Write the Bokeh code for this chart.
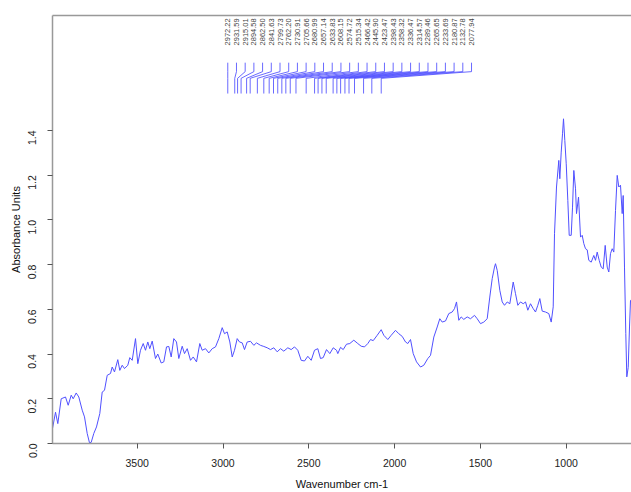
import math
import numpy as np
from bokeh.plotting import figure
from bokeh.models import Range1d, FixedTicker, LinearAxis, NumeralTickFormatter
from bokeh.embed import file_html
from bokeh.resources import INLINE
from bokeh.core.properties import value

# ---- spectrum ----
wavenumber = [3995.3, 3976.0, 3962.7, 3942.9, 3917.8, 3902.1, 3884.6, 3873.0, 3855.5, 3840.3,
              3820.5, 3807.1, 3791.4, 3778.0, 3768.1, 3752.9, 3737.2, 3717.9, 3704.0, 3690.5,
              3674.8, 3655.6, 3645.7, 3632.3, 3613.1, 3601.4, 3587.4, 3574.0, 3554.8, 3543.1,
              3529.1, 3509.9, 3496.5, 3480.8, 3465.0, 3451.6, 3438.2, 3426.6, 3412.6, 3393.4,
              3380.0, 3360.1, 3345.0, 3329.2, 3315.8, 3301.9, 3286.7, 3271.0, 3257.6, 3237.8,
              3224.3, 3208.6, 3189.4, 3173.6, 3154.4, 3135.2, 3121.2, 3101.9, 3082.7, 3062.9,
              3043.7, 3024.4, 3004.6, 2991.2, 2975.5, 2960.3, 2946.3, 2933.0, 2917.2, 2903.8,
              2888.1, 2874.7, 2859.0, 2839.7, 2820.5, 2804.8, 2781.4, 2762.2, 2742.4, 2723.2,
              2704.0, 2684.2, 2664.9, 2645.7, 2622.4, 2602.6, 2583.3, 2564.1, 2544.3, 2525.1,
              2505.8, 2486.0, 2466.8, 2447.6, 2431.8, 2416.1, 2396.8, 2377.6, 2357.8, 2338.6,
              2331.0, 2315.2, 2299.5, 2280.3, 2261.1, 2237.8, 2214.5, 2194.7, 2175.4, 2156.2,
              2140.4, 2124.7, 2101.4, 2078.1, 2062.9, 2039.6, 2019.8, 1994.7, 1975.5, 1955.7,
              1936.4, 1923.0, 1907.3, 1891.6, 1872.3, 1849.0, 1829.8, 1806.5, 1790.8, 1771.5,
              1751.7, 1736.6, 1722.6, 1703.4, 1684.2, 1664.4, 1651.0, 1639.3, 1625.9, 1611.9,
              1596.8, 1577.0, 1557.7, 1534.4, 1518.7, 1499.4, 1480.2, 1460.4, 1445.3, 1431.3,
              1417.8, 1412.0, 1402.1, 1386.9, 1372.9, 1359.5, 1343.8, 1328.6, 1308.8, 1295.4,
              1282.0, 1266.3, 1250.5, 1237.1, 1223.7, 1208.0, 1192.3, 1178.9, 1165.5, 1153.8,
              1139.8, 1120.6, 1101.4, 1087.4, 1075.7, 1068.2, 1056.5, 1043.1, 1037.3, 1029.1,
              1021.5, 1015.7, 1008.1, 999.9, 990.6, 982.5, 970.8, 963.2, 955.6, 945.7,
              939.9, 928.2, 916.6, 906.7, 897.4, 887.5, 877.6, 868.3, 854.3, 839.2,
              829.3, 819.4, 807.7, 796.1, 784.4, 772.8, 761.1, 751.8, 741.9, 732.0,
              722.7, 712.7, 702.8, 693.5, 683.6, 673.7, 667.9, 660.3, 652.7, 646.9,
              638.7, 631.1, 625.3, 619.5]
absorbance = [0.060, 0.140, 0.089, 0.200, 0.208, 0.171, 0.216, 0.200, 0.226, 0.208,
              0.149, 0.119, 0.045, 0.003, 0.005, 0.045, 0.074, 0.134, 0.230, 0.238,
              0.305, 0.313, 0.342, 0.320, 0.375, 0.327, 0.350, 0.335, 0.350, 0.384,
              0.372, 0.469, 0.357, 0.417, 0.447, 0.417, 0.454, 0.424, 0.458, 0.380,
              0.400, 0.360, 0.365, 0.432, 0.434, 0.387, 0.469, 0.454, 0.380, 0.435,
              0.402, 0.424, 0.372, 0.387, 0.365, 0.447, 0.417, 0.424, 0.405, 0.424,
              0.432, 0.469, 0.518, 0.491, 0.499, 0.454, 0.387, 0.417, 0.469, 0.454,
              0.450, 0.420, 0.454, 0.457, 0.439, 0.450, 0.439, 0.434, 0.428, 0.420,
              0.428, 0.410, 0.424, 0.413, 0.428, 0.420, 0.432, 0.417, 0.372, 0.369,
              0.390, 0.372, 0.417, 0.424, 0.380, 0.384, 0.420, 0.402, 0.428, 0.417,
              0.402, 0.430, 0.420, 0.444, 0.447, 0.462, 0.447, 0.435, 0.432, 0.447,
              0.465, 0.460, 0.484, 0.509, 0.484, 0.465, 0.484, 0.506, 0.491, 0.479,
              0.454, 0.447, 0.465, 0.402, 0.365, 0.342, 0.350, 0.380, 0.394, 0.476,
              0.521, 0.558, 0.543, 0.548, 0.581, 0.588, 0.603, 0.633, 0.551, 0.566,
              0.555, 0.566, 0.558, 0.573, 0.558, 0.536, 0.543, 0.558, 0.655, 0.737,
              0.789, 0.804, 0.774, 0.685, 0.633, 0.618, 0.633, 0.625, 0.722, 0.670,
              0.618, 0.633, 0.625, 0.633, 0.596, 0.625, 0.603, 0.588, 0.618, 0.648,
              0.592, 0.588, 0.581, 0.543, 0.611, 0.938, 1.147, 1.266, 1.184, 1.303,
              1.385, 1.452, 1.355, 1.251, 1.087, 0.931, 0.931, 1.057, 1.221, 1.139,
              1.028, 1.102, 0.923, 0.931, 0.894, 0.871, 0.866, 0.819, 0.811, 0.841,
              0.819, 0.856, 0.819, 0.789, 0.781, 0.886, 0.789, 0.767, 0.849, 0.871,
              0.856, 1.042, 1.199, 1.147, 1.155, 1.028, 1.109, 0.789, 0.491, 0.298,
              0.340, 0.521, 0.640, 0.640]

# ---- peak labels ----
peak_labels = ["2972.22", "2931.59", "2915.01", "2894.58", "2862.50", "2841.63", "2799.73",
               "2762.20", "2730.91", "2705.66", "2680.99", "2657.14", "2633.83", "2608.15",
               "2574.72", "2515.34", "2466.42", "2445.90", "2423.47", "2398.43", "2358.32",
               "2336.47", "2314.57", "2289.46", "2265.65", "2233.69", "2180.87", "2132.78",
               "2077.94"]
peak_positions = [float(s) for s in peak_labels]

x_ticks = [3500, 3000, 2500, 2000, 1500, 1000]
y_ticks = [0.0, 0.2, 0.4, 0.6, 0.8, 1.0, 1.2, 1.4]

FONT = "Liberation Sans"
BLUE = "#5050ff"
AXIS_GRAY = "#999999"

p = figure(width=631, height=492, output_backend="svg", toolbar_location=None,
           x_range=Range1d(3993.6, 619.5), y_range=Range1d(0, 1.914),
           min_border_left=52, min_border_right=0, min_border_top=15, min_border_bottom=49)
p.outline_line_color = None
p.grid.visible = False
p.background_fill_color = "white"
p.border_fill_color = "white"

p.line(wavenumber, absorbance, line_color=BLUE, line_width=1)

# label connectors
n = len(peak_positions)
label_x = np.linspace(peak_positions[0], 1551.8, n)
xs = [[lx, lx, pk, pk] for lx, pk in zip(label_x, peak_positions)]
ys = [[1.703, 1.663, 1.633, 1.565] for _ in range(n)]
p.multi_line(xs, ys, line_color=BLUE, line_width=1, line_alpha=0.85)
p.text(x=list(label_x), y=[1.78] * n, text=peak_labels, angle=math.pi / 2,
       text_align="left", text_baseline="middle", text_font=value(FONT),
       text_font_size="7.5px", text_color="#444444")

# axes
for ax in (p.xaxis[0], p.yaxis[0]):
    ax.axis_line_color = AXIS_GRAY
    ax.axis_line_width = 1.5
    ax.major_tick_line_color = "#555555"
    ax.major_tick_out = 5
    ax.major_tick_in = 0
    ax.minor_tick_line_color = None
    ax.major_label_text_font = FONT
    ax.major_label_text_font_size = "10.5px"
    ax.major_label_text_color = "#222222"
    ax.axis_label_text_font = FONT
    ax.axis_label_text_font_size = "11px"
    ax.axis_label_text_font_style = "normal"
    ax.axis_label_text_color = "#111111"

p.xaxis[0].ticker = FixedTicker(ticks=x_ticks)
p.xaxis[0].axis_label = "Wavenumber cm-1"
p.xaxis[0].major_label_standoff = 10
p.xaxis[0].axis_label_standoff = 8

p.yaxis[0].ticker = FixedTicker(ticks=y_ticks)
p.yaxis[0].formatter = NumeralTickFormatter(format="0.0")
p.yaxis[0].axis_label = "Absorbance Units"
p.yaxis[0].major_label_orientation = math.pi / 2
p.yaxis[0].major_label_standoff = 15
p.yaxis[0].axis_label_standoff = 0

top = LinearAxis(ticker=FixedTicker(ticks=[]), axis_line_color=AXIS_GRAY, axis_line_width=1.5,
                 major_tick_line_color=None, minor_tick_line_color=None,
                 major_label_text_font_size="0px")
p.add_layout(top, "above")

open("out.html", "w").write(file_html(p, INLINE))
